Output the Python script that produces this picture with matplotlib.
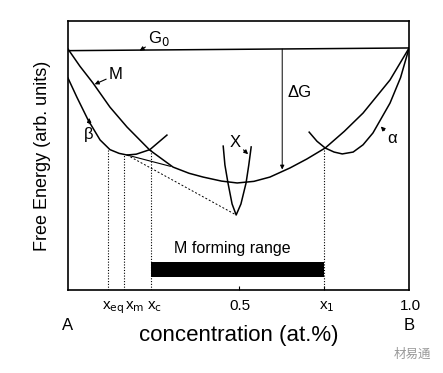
import numpy as np
import matplotlib
matplotlib.use("Agg")
import matplotlib.pyplot as plt

plt.rcParams['font.family'] = ['Liberation Sans', 'DejaVu Sans']

# Courbes (concentration, énergie libre en unités arbitraires)
m_x = [0.0, 0.035, 0.073, 0.123, 0.173, 0.240, 0.308, 0.355, 0.396, 0.450, 0.496,
       0.545, 0.592, 0.651, 0.700, 0.754, 0.810, 0.865, 0.944, 1.0]
m_y = [0.896, 0.832, 0.770, 0.680, 0.606, 0.520, 0.457, 0.434, 0.420, 0.405, 0.398,
       0.404, 0.420, 0.454, 0.487, 0.528, 0.590, 0.658, 0.781, 0.900]

beta_x = [0.0, 0.026, 0.059, 0.094, 0.123, 0.150, 0.173, 0.200, 0.240, 0.290]
beta_y = [0.788, 0.717, 0.632, 0.558, 0.522, 0.508, 0.502, 0.505, 0.522, 0.576]

alpha_x = [0.707, 0.730, 0.754, 0.780, 0.804, 0.836, 0.865, 0.894, 0.944, 0.975, 1.0]
alpha_y = [0.587, 0.553, 0.528, 0.513, 0.506, 0.513, 0.540, 0.584, 0.695, 0.790, 0.900]

x_x = [0.455, 0.460, 0.469, 0.481, 0.493, 0.507, 0.522, 0.530, 0.537]
x_y = [0.535, 0.465, 0.398, 0.320, 0.279, 0.320, 0.398, 0.465, 0.532]

g0_x = [0.0, 1.0]
g0_y = [0.890, 0.900]

# Positions caractéristiques
x_eq, x_m, x_c, x_1 = 0.117, 0.164, 0.243, 0.751
vline_x = [x_eq, x_m, x_c, x_1]
vline_top = [0.520, 0.502, 0.520, 0.524]

tick_pos = [0.132, 0.196, 0.255, 0.505, 0.760, 1.005]
tick_labels = ["x$_{\\rm eq}$", "x$_{\\rm m}$", "x$_{\\rm c}$", "0.5", "x$_{\\rm 1}$", "1.0"]

fig = plt.figure(figsize=(4.43, 3.73), dpi=100)
ax = fig.add_axes([0.1535, 0.2225, 0.770, 0.721])
ax.set_xlim(0, 1)
ax.set_ylim(0, 1)

lw = 1.1
ax.plot(g0_x, g0_y, color="black", lw=lw)
ax.plot(m_x, m_y, color="black", lw=lw)
ax.plot(beta_x, beta_y, color="black", lw=lw)
ax.plot(alpha_x, alpha_y, color="black", lw=lw)
ax.plot(x_x, x_y, color="black", lw=lw)

# tangentes
ax.plot([0.173, 0.300], [0.502, 0.460], color="black", lw=0.8)
ax.plot([0.173, 0.493], [0.502, 0.279], color="black", lw=0.7, ls=(0, (2, 2)))

# lignes verticales pointillées
for xv, yt in zip(vline_x, vline_top):
    ax.plot([xv, xv], [0, yt], color="black", lw=0.8, ls=(0, (1, 1.5)))

# barre "M forming range"
ax.barh(0.076, x_1 - x_c, left=x_c, height=0.056, color="black")
ax.text(0.483, 0.155, "M forming range", ha="center", va="center", fontsize=11.5)

# flèche delta G
ax.annotate("", xy=(0.628, 0.448), xytext=(0.628, 0.896),
            arrowprops=dict(arrowstyle="-|>", color="black", lw=0.7,
                            mutation_scale=6, shrinkA=0, shrinkB=0))
ax.text(0.68, 0.735, "ΔG", ha="center", va="center", fontsize=12)

# étiquettes des courbes
arrow = dict(arrowstyle="-|>", color="black", lw=0.8, shrinkA=0, shrinkB=0,
             mutation_scale=6)
ax.annotate("G$_0$", xy=(0.21, 0.890), xytext=(0.235, 0.900), fontsize=12,
            ha="left", va="bottom", arrowprops=arrow)
ax.annotate("M", xy=(0.078, 0.765), xytext=(0.12, 0.80), fontsize=12,
            ha="left", va="center", arrowprops=arrow)
ax.annotate("β", xy=(0.062, 0.640), xytext=(0.048, 0.580), fontsize=12,
            ha="left", va="center", arrowprops=arrow)
ax.annotate("α", xy=(0.917, 0.608), xytext=(0.95, 0.565), fontsize=12,
            ha="center", va="center", arrowprops=arrow)
ax.annotate("X", xy=(0.528, 0.505), xytext=(0.49, 0.550), fontsize=12,
            ha="center", va="center", arrowprops=arrow)

# axes
ax.set_xticks([0.5, x_1])
ax.set_xticklabels([])
ax.set_yticks([])
ax.tick_params(axis="x", direction="in", length=3, width=0.8)
for s in ax.spines.values():
    s.set_linewidth(1.2)

for p, lab in zip(tick_pos, tick_labels):
    ax.text(p, -0.035, lab, ha="center", va="top", fontsize=11,
            transform=ax.transAxes)
ax.text(0.0, -0.105, "A", ha="center", va="top", fontsize=12, transform=ax.transAxes)
ax.text(1.0, -0.105, "B", ha="center", va="top", fontsize=12, transform=ax.transAxes)

ax.set_xlabel("concentration (at.%)", fontsize=16, labelpad=22)
ax.set_ylabel("Free Energy (arb. units)", fontsize=13, labelpad=12)

fig.text(0.93, 0.05, "材易通", ha="center", va="center", fontsize=9, color="#999999",
         family=["Noto Sans CJK SC", "DejaVu Sans"])

fig.savefig("out.png", dpi=100)
